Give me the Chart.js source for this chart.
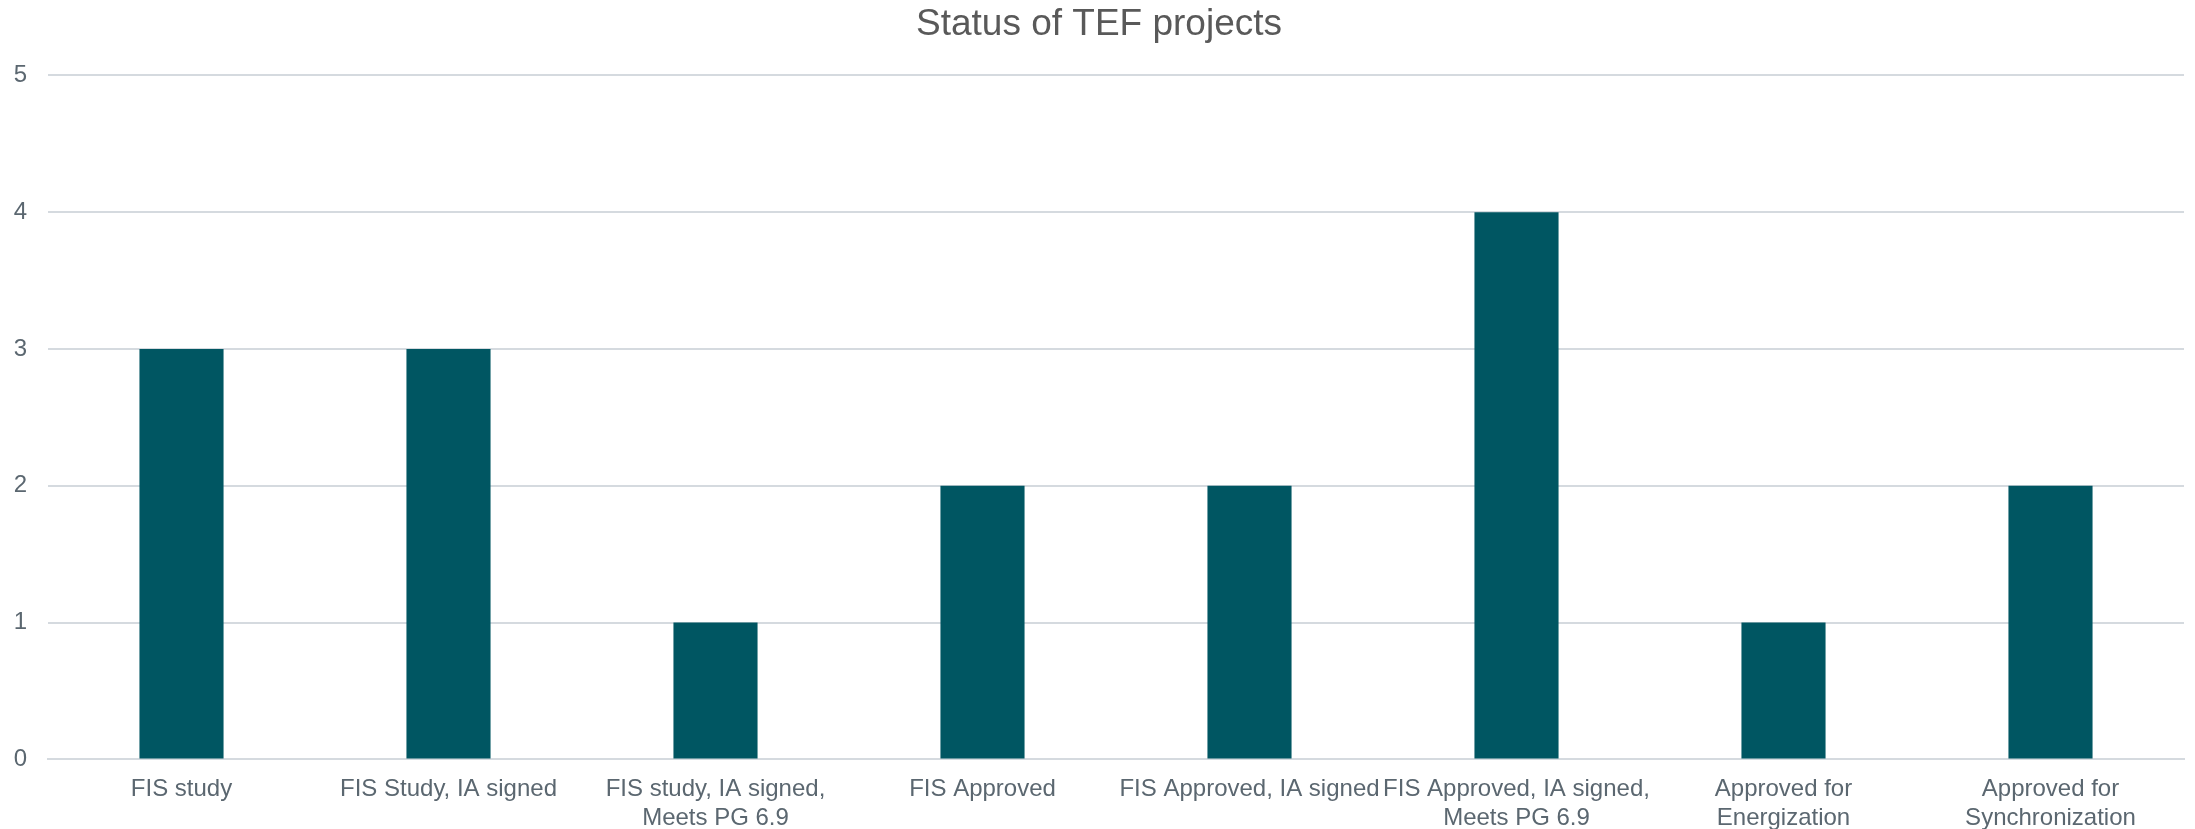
<!DOCTYPE html>
<html>
<head>
<meta charset="utf-8">
<script src="https://cdn.jsdelivr.net/npm/chart.js@4/dist/chart.umd.min.js"></script>
<style>
    html, body { margin: 0; padding: 0; background: #fff; }
    #wrap { width: 2195px; height: 829px; }
</style>
</head>
<body>
<div id="wrap"><canvas id="tef-chart"></canvas></div>
<script>
const categories = [
    'FIS study',
    'FIS Study, IA signed',
    ['FIS study, IA signed,', 'Meets PG 6.9'],
    'FIS Approved',
    'FIS Approved, IA signed',
    ['FIS Approved, IA signed,', 'Meets PG 6.9'],
    ['Approved for', 'Energization'],
    ['Approved for', 'Synchronization']
];
const projectCounts = [3, 3, 1, 2, 2, 4, 1, 2];
const yTicks = [0, 1, 2, 3, 4, 5];

document.addEventListener('DOMContentLoaded', function () {
    const ctx = document.getElementById('tef-chart');
    const labelColor = '#5b6770';
    const font = 'Liberation Sans, Arial, sans-serif';

    new Chart(ctx, {
        type: 'bar',
        data: {
            labels: categories,
            datasets: [{
                label: 'Projects',
                data: projectCounts,
                backgroundColor: '#005662',
                categoryPercentage: 1,
                barPercentage: 0.315
            }]
        },
        options: {
            responsive: true,
            maintainAspectRatio: false,
            animation: false,
            layout: { padding: { left: 14, right: 11, top: 0, bottom: -12 } },
            plugins: {
                legend: { display: false },
                tooltip: { enabled: false },
                title: {
                    display: true,
                    text: 'Status of TEF projects',
                    color: '#595959',
                    font: { family: font, size: 37, weight: 'normal' },
                    padding: { top: 3, bottom: 28 }
                }
            },
            scales: {
                x: {
                    grid: { display: false },
                    border: { color: '#d5dadf', width: 2 },
                    ticks: {
                        color: labelColor,
                        font: { family: font, size: 24, lineHeight: 1.2 },
                        autoSkip: false,
                        maxRotation: 0,
                        padding: 8
                    }
                },
                y: {
                    min: 0,
                    max: yTicks[yTicks.length - 1],
                    afterBuildTicks: function (axis) {
                        axis.ticks = yTicks.map(v => ({ value: v }));
                    },
                    afterFit: function (axis) {
                        axis.width = 34;
                    },
                    grid: { color: '#d5dadf', lineWidth: 2, drawTicks: false },
                    border: { display: false },
                    ticks: {
                        color: labelColor,
                        font: { family: font, size: 24 },
                        padding: 21
                    }
                }
            }
        }
    });
});
</script>
</body>
</html>
